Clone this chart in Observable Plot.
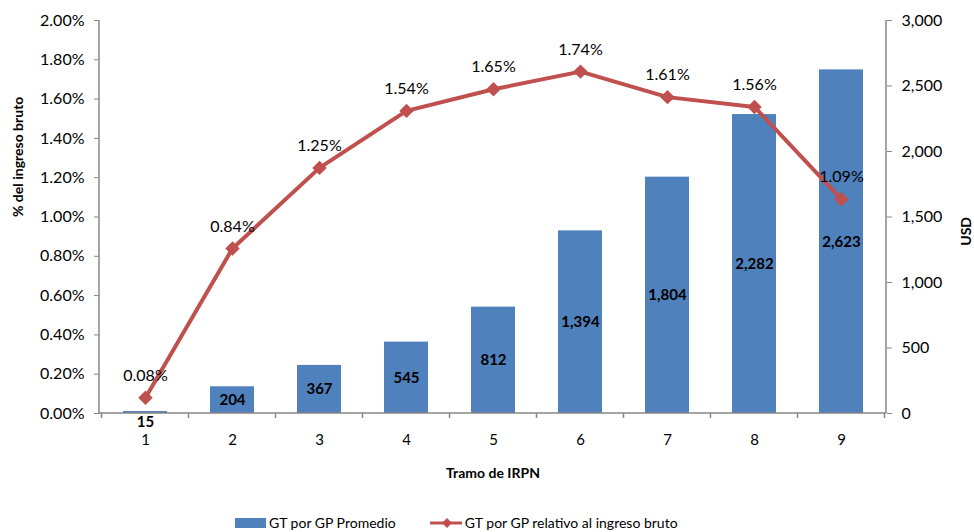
<!DOCTYPE html>
<html>
<head>
<meta charset="utf-8">
<script src="https://cdn.jsdelivr.net/npm/d3@7"></script>
<script src="https://cdn.jsdelivr.net/npm/@observablehq/plot@0.6"></script>
<style>
  html, body { margin: 0; padding: 0; background: #fff; }
  #wrap { position: relative; width: 974px; height: 532px; font-family: Lato, "Open Sans", sans-serif; }
  #legend { position: absolute; left: 235px; top: 514px; display: flex; align-items: center; font-size: 14px; color: #000; }
  .item { display: flex; align-items: center; }
  .swatch-bar { width: 31px; height: 10px; background: #4F81BD; margin-right: 3px; }
  .swatch-line { margin-right: 3px; }
</style>
</head>
<body>
<div id="wrap">
  <div id="chart"></div>
  <div id="legend">
    <div class="item"><div class="swatch-bar"></div><span>GT por GP Promedio</span></div>
    <div class="item" style="margin-left:34px">
      <svg class="swatch-line" width="32" height="12"><line x1="0" y1="6" x2="32" y2="6" stroke="#C0504D" stroke-width="3"/><path d="M17,1 L22,6 L17,11 L12,6 Z" fill="#C0504D"/></svg>
      <span>GT por GP relativo al ingreso bruto</span>
    </div>
  </div>
</div>
<script>
// Tramos de IRPN y valores de gasto tributario por gravamen de personas
const tramos = [1, 2, 3, 4, 5, 6, 7, 8, 9];
const gtPromedioUSD = [15, 204, 367, 545, 812, 1394, 1804, 2282, 2623];
const gtRelativoPct = [0.08, 0.84, 1.25, 1.54, 1.65, 1.74, 1.61, 1.56, 1.09];
const pctTicks = [0, 0.2, 0.4, 0.6, 0.8, 1.0, 1.2, 1.4, 1.6, 1.8, 2.0];
const usdTicks = [0, 500, 1000, 1500, 2000, 2500, 3000];

// Left axis (0–2%) shares the vertical scale with the right axis (0–3,000 USD)
const usdMax = 3000, pctMax = 2;
const k = usdMax / pctMax;

const rows = tramos.map((t, i) => ({tramo: t, usd: gtPromedioUSD[i], pct: gtRelativoPct[i]}));

const axisColor = "#868686";
const fmtUSD = d3.format(",");

const plot = Plot.plot({
  width: 974,
  height: 505,
  marginLeft: 99,
  marginRight: 88,
  marginTop: 20,
  marginBottom: 92,
  style: {fontFamily: "Lato, 'Open Sans', sans-serif", fontSize: "16px", color: "#000", background: "#fff"},
  x: {type: "band", domain: tramos, paddingInner: 0.5, paddingOuter: 0.25},
  y: {domain: [0, usdMax]},
  marks: [
    Plot.barY(rows, {x: "tramo", y: "usd", fill: "#4F81BD"}),
    Plot.axisY(pctTicks.map(p => p * k), {
      anchor: "left", tickSize: 5, tickPadding: 10, stroke: axisColor,
      tickFormat: v => (v / k).toFixed(2) + "%", label: null
    }),
    Plot.axisY(usdTicks, {
      anchor: "right", tickSize: 5, tickPadding: 10, stroke: axisColor,
      tickFormat: fmtUSD, label: null
    }),
    Plot.axisX(tramos, {tickSize: 0, tickPadding: 21, fontSize: 15, label: null}),
    Plot.text(["% del ingreso bruto"], {frameAnchor: "left", rotate: -90, dx: -81, fontWeight: "bold", fontSize: 14}),
    Plot.text(["USD"], {frameAnchor: "right", rotate: -90, dx: 80, fontWeight: "bold", fontSize: 14}),
    Plot.text(["Tramo de IRPN"], {frameAnchor: "bottom", dy: 64, fontWeight: "bold", fontSize: 14}),
    Plot.line(rows, {x: "tramo", y: d => d.pct * k, stroke: "#C0504D", strokeWidth: 4}),
    Plot.dot(rows, {x: "tramo", y: d => d.pct * k, symbol: "diamond2", r: 6.5, fill: "#C0504D", stroke: "none"}),
    Plot.text(rows, {x: "tramo", y: d => d.pct * k, text: d => d.pct.toFixed(2) + "%", dy: -22}),
    Plot.text(rows.filter(d => d.usd >= 100), {x: "tramo", y: d => d.usd / 2, text: d => fmtUSD(d.usd), fontWeight: "bold", fontSize: 15}),
    Plot.text(rows.filter(d => d.usd < 100), {x: "tramo", y: d => d.usd / 2, text: d => fmtUSD(d.usd), fontWeight: "bold", fontSize: 15, dy: 10})
  ]
});

// Axis lines and category boundary ticks, placed from the plot's own scales
const xs = plot.scale("x");
const ys = plot.scale("y");
const y0 = ys.apply(0), yTop = ys.apply(usdMax);
const [xLeft, xRight] = xs.range;
const gap = (xs.step - xs.bandwidth) / 2;
const bounds = tramos.map(t => xs.apply(t) - gap).concat([xs.apply(tramos[tramos.length - 1]) + xs.bandwidth + gap]);
const svg = d3.select(plot.tagName.toLowerCase() === "svg" ? plot : plot.querySelector("svg"));
const g = svg.append("g").attr("stroke", axisColor).attr("stroke-width", 1.5);
g.append("line").attr("x1", xLeft).attr("x2", xLeft).attr("y1", yTop).attr("y2", y0);
g.append("line").attr("x1", xRight).attr("x2", xRight).attr("y1", yTop).attr("y2", y0);
g.append("line").attr("x1", xLeft).attr("x2", xRight).attr("y1", y0).attr("y2", y0);
g.selectAll(null).data(bounds).join("line")
  .attr("x1", d => d).attr("x2", d => d).attr("y1", y0).attr("y2", y0 + 5);
// keep line and labels above the axis lines
svg.node().querySelectorAll("g[aria-label='line'], g[aria-label='dot'], g[aria-label='text']").forEach(n => svg.node().appendChild(n));

document.getElementById("chart").appendChild(plot);
</script>
</body>
</html>
